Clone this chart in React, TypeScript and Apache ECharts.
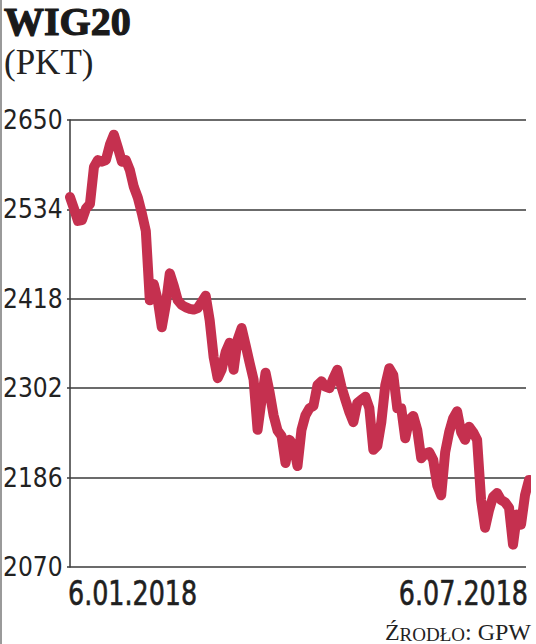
import React, { useEffect, useRef } from 'react';
import * as echarts from 'echarts';

const titleText = 'WIG20';
const unitText = '(PKT)';
const sourceCap = 'Ź';
const sourceSmall = 'RODŁO';
const sourceRest = ': GPW';
const yTicks = [2070, 2186, 2302, 2418, 2534, 2650];
const dateLabels = ['6.01.2018', '6.07.2018'];
const wigValues = [
  2550, 2535, 2519, 2520, 2535, 2541, 2589, 2598, 2596, 2598,
  2618, 2631, 2614, 2596, 2598, 2585, 2563, 2549, 2529, 2506,
  2416, 2437, 2416, 2381, 2410, 2451, 2435, 2416, 2410, 2407,
  2405, 2404, 2406, 2414, 2422, 2390, 2342, 2315, 2326, 2349,
  2361, 2326, 2365, 2380, 2358, 2335, 2313, 2248, 2287, 2322,
  2297, 2267, 2247, 2240, 2205, 2235, 2228, 2201, 2248, 2267,
  2276, 2279, 2306, 2311, 2304, 2302, 2315, 2326, 2304, 2287,
  2271, 2258, 2283, 2287, 2291, 2276, 2222, 2227, 2258, 2306,
  2328, 2319, 2276, 2276, 2237, 2261, 2266, 2248, 2211, 2217,
  2219, 2209, 2176, 2163, 2219, 2245, 2263, 2272, 2245, 2235,
  2252, 2245, 2235, 2157, 2121, 2144, 2161, 2166, 2157, 2154,
  2147, 2099, 2138, 2125, 2163, 2183,
];

const NARROW = "'Liberation Sans Narrow', 'DejaVu Sans Condensed', 'Liberation Sans', sans-serif";
const SERIF = "'Liberation Serif', serif";

export default function App() {
  const ref = useRef<HTMLDivElement>(null);
  useEffect(() => {
    document.body.style.margin = '0';
    const chart = echarts.init(ref.current!, null, { renderer: 'svg' });
    const last = wigValues.length - 1;
    chart.setOption({
      animation: false,
      backgroundColor: '#ffffff',
      grid: { left: 67, right: 10, top: 120, bottom: 77 },
      xAxis: {
        type: 'value',
        min: -0.75,
        max: last - 0.75,
        show: false,
      },
      yAxis: {
        type: 'value',
        min: yTicks[0],
        max: yTicks[yTicks.length - 1],
        interval: yTicks[1] - yTicks[0],
        axisLine: { show: true, lineStyle: { color: '#3a3a3a', width: 1.5 } },
        axisTick: { show: false },
        splitLine: { show: true, lineStyle: { color: '#3a3a3a', width: 1.5 } },
        axisLabel: {
          align: 'left',
          margin: 64,
          fontFamily: NARROW,
          fontSize: 26,
          color: '#222',
          padding: [0, 0, 9, 0],
          formatter: (v: number) => String(v),
        },
      },
      graphic: [
        { type: 'line', shape: { x1: 1, y1: 0, x2: 1, y2: 644 }, style: { stroke: '#9a9a9a', lineWidth: 2 } },
        {
          type: 'text', x: 4, y: 1,
          style: {
            text: titleText, font: `bold 40px ${SERIF}`, fill: '#1a1a1a',
            stroke: '#1a1a1a', lineWidth: 1.2, verticalAlign: 'top',
          },
        },
        {
          type: 'text', x: 4, y: 45,
          style: { text: unitText, font: `35px ${SERIF}`, fill: '#222', verticalAlign: 'top' },
        },
        {
          type: 'text', x: 68, y: 576, scaleX: 0.83,
          style: {
            text: dateLabels[0], font: `34px ${NARROW}`, fill: '#1f1f1f',
            stroke: '#1f1f1f', lineWidth: 0.6, align: 'left', verticalAlign: 'top',
          },
        },
        {
          type: 'text', x: 528, y: 576, scaleX: 0.83,
          style: {
            text: dateLabels[1], font: `34px ${NARROW}`, fill: '#1f1f1f',
            stroke: '#1f1f1f', lineWidth: 0.6, align: 'right', verticalAlign: 'top',
          },
        },
        {
          type: 'text', right: 5, bottom: 0,
          style: {
            text: `{a|${sourceCap}}{b|${sourceSmall}}{a|${sourceRest}}`,
            rich: {
              a: { font: `24px ${SERIF}`, fill: '#222', verticalAlign: 'bottom' },
              b: { font: `19px ${SERIF}`, fill: '#222', verticalAlign: 'bottom' },
            },
          },
        },
      ],
      series: [
        {
          type: 'line',
          data: wigValues.map((v, i) => [i, v]),
          showSymbol: false,
          symbol: 'none',
          clip: false,
          lineStyle: { color: '#c5304f', width: 10, cap: 'round', join: 'round' },
        },
      ],
    });
    return () => chart.dispose();
  }, []);
  return <div ref={ref} style={{ width: 536, height: 644 }} />;
}
